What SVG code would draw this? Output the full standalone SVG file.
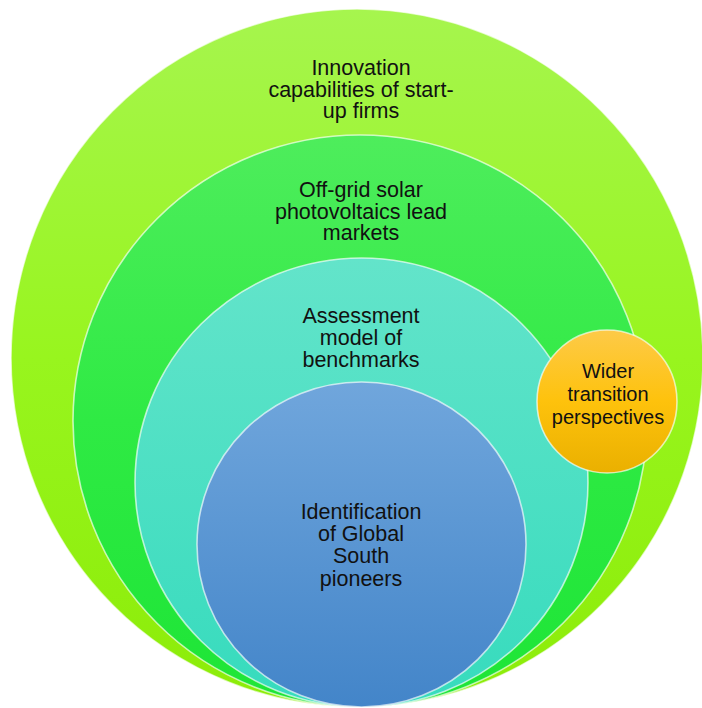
<svg xmlns="http://www.w3.org/2000/svg" width="702" height="708" viewBox="0 0 702 708">
  <style>
    .lbl { font-family: "Liberation Sans", Arial, sans-serif; font-size: 21.5px; fill: #111111; text-anchor: middle; }
    .lbl-s { font-family: "Liberation Sans", Arial, sans-serif; font-size: 20px; fill: #111111; text-anchor: middle; }
    .edge { stroke: #ffffff; stroke-opacity: 0.65; stroke-width: 1.6; }
  </style>
  <defs>
    <linearGradient id="gLime" x1="0" y1="0" x2="0" y2="1">
      <stop offset="0" stop-color="#a6f54e"/>
      <stop offset="0.5" stop-color="#98f51e"/>
      <stop offset="1" stop-color="#8cec08"/>
    </linearGradient>
    <linearGradient id="gGreen" x1="0" y1="0" x2="0" y2="1">
      <stop offset="0" stop-color="#4eed5c"/>
      <stop offset="0.5" stop-color="#2fea44"/>
      <stop offset="1" stop-color="#1de536"/>
    </linearGradient>
    <linearGradient id="gTeal" x1="0" y1="0" x2="0" y2="1">
      <stop offset="0" stop-color="#63e4ca"/>
      <stop offset="1" stop-color="#36dbbd"/>
    </linearGradient>
    <linearGradient id="gBlue" x1="0" y1="0" x2="0" y2="1">
      <stop offset="0" stop-color="#70a6dc"/>
      <stop offset="1" stop-color="#4385c9"/>
    </linearGradient>
    <linearGradient id="gOrange" x1="0" y1="0" x2="0" y2="1">
      <stop offset="0" stop-color="#fdca48"/>
      <stop offset="0.5" stop-color="#fec20c"/>
      <stop offset="1" stop-color="#eab000"/>
    </linearGradient>
  </defs>

  <g id="node-innovation">
    <ellipse cx="357" cy="358" rx="346" ry="349" fill="url(#gLime)" class="edge"/>
    <text class="lbl" x="361" y="75">Innovation</text>
    <text class="lbl" x="361" y="96.7">capabilities of start-</text>
    <text class="lbl" x="361" y="118.3">up firms</text>
  </g>

  <g id="node-offgrid">
    <ellipse cx="360" cy="421" rx="287" ry="286" fill="url(#gGreen)" class="edge"/>
    <text class="lbl" x="361" y="197">Off-grid solar</text>
    <text class="lbl" x="361" y="218.6">photovoltaics lead</text>
    <text class="lbl" x="361" y="240.2">markets</text>
  </g>

  <g id="node-assessment">
    <ellipse cx="361.5" cy="482.5" rx="226.5" ry="224.5" fill="url(#gTeal)" class="edge"/>
    <text class="lbl" x="361" y="323">Assessment</text>
    <text class="lbl" x="361" y="345">model of</text>
    <text class="lbl" x="361" y="367">benchmarks</text>
  </g>

  <g id="node-identification">
    <ellipse cx="361.5" cy="544.5" rx="164.5" ry="162.5" fill="url(#gBlue)" class="edge"/>
    <text class="lbl" x="361" y="518.5">Identification</text>
    <text class="lbl" x="361" y="541">of Global</text>
    <text class="lbl" x="361" y="563.3">South</text>
    <text class="lbl" x="361" y="585.6">pioneers</text>
  </g>

  <g id="node-wider">
    <ellipse cx="607" cy="401.5" rx="70" ry="71.5" fill="url(#gOrange)" class="edge"/>
    <text class="lbl-s" x="608" y="378">Wider</text>
    <text class="lbl-s" x="608" y="401">transition</text>
    <text class="lbl-s" x="608" y="424">perspectives</text>
  </g>

  <g id="connectors"/>
</svg>
